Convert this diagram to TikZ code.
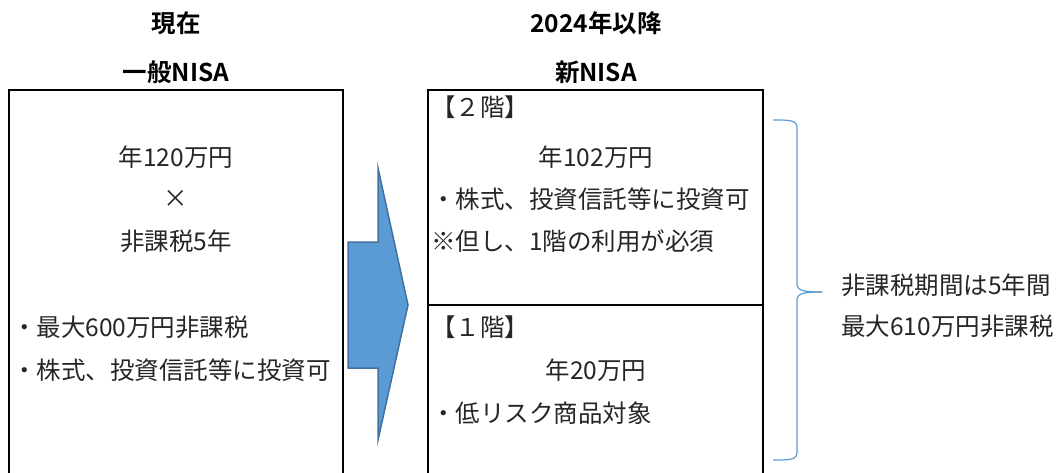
\documentclass[tikz,border=0pt]{standalone}
\usepackage{fontspec}
\setmainfont{Noto Sans CJK JP}
\newfontfamily\jpb{Noto Sans CJK JP Bold}
\definecolor{arrowfill}{HTML}{5B9BD5}
\definecolor{arrowline}{HTML}{41719C}
\definecolor{bracecol}{HTML}{5B9BD5}
\begin{document}
\begin{tikzpicture}[x=1pt,y=-1pt,
  body/.style={inner sep=0pt,font=\fontsize{24.5}{28}\selectfont,text=black!85},
  lbody/.style={body,anchor=west},
  head/.style={inner sep=0pt,font=\jpb\fontsize{24.5}{28}\selectfont},
  boxline/.style={draw=black,line width=2pt}]
\useasboundingbox (0,0) rectangle (1059,473);
% boxes
\draw[boxline] (9,480) -- (9,90) -- (343,90) -- (343,480);
\draw[boxline] (428,480) -- (428,90) -- (763,90) -- (763,480);
\draw[boxline] (428,305) -- (763,305);
% headers
\node[head] (h1) at (176,23) {現在};
\node[head] (h2) at (176,72) {一般NISA};
\node[head] (h3) at (596,23) {2024年以降};
\node[head] (h4) at (596,72) {新NISA};
% left box
\node[body] (l1) at (176,157) {年120万円};
\node[body] (l2) at (176,199) {×};
\node[body] (l3) at (176,241) {非課税5年};
\node[lbody] (l4) at (12,327) {・最大600万円非課税};
\node[lbody] (l5) at (12,370) {・株式、投資信託等に投資可};
% right top
\node[lbody] (r1) at (431,107) {【２階】};
\node[body] (r2) at (596,157) {年102万円};
\node[lbody] (r3) at (431,199) {・株式、投資信託等に投資可};
\node[lbody] (r4) at (431,241) {※但し、1階の利用が必須};
% right bottom
\node[lbody] (r5) at (431,327) {【１階】};
\node[body] (r6) at (596,370) {年20万円};
\node[lbody] (r7) at (431,413) {・低リスク商品対象};
% arrow
\draw[fill=arrowfill,draw=arrowline,line width=1.5pt,line join=miter]
  (348,242) -- (378,242) -- (378,168) -- (408,305) -- (378,440) -- (378,368) -- (348,368) -- cycle;
% brace
\draw[bracecol,line width=1.2pt]
  (773,120) .. controls (790,120) and (797,120) .. (797,128)
  -- (797,284) .. controls (797,291) and (805,292) .. (822,292);
\draw[bracecol,line width=1.2pt]
  (822,292) .. controls (805,292) and (797,293) .. (797,300)
  -- (797,452) .. controls (797,460) and (790,460) .. (773,460);
% right text
\node[lbody] (t1) at (841,285) {非課税期間は5年間};
\node[lbody] (t2) at (841,326) {最大610万円非課税};
\end{tikzpicture}
\end{document}
